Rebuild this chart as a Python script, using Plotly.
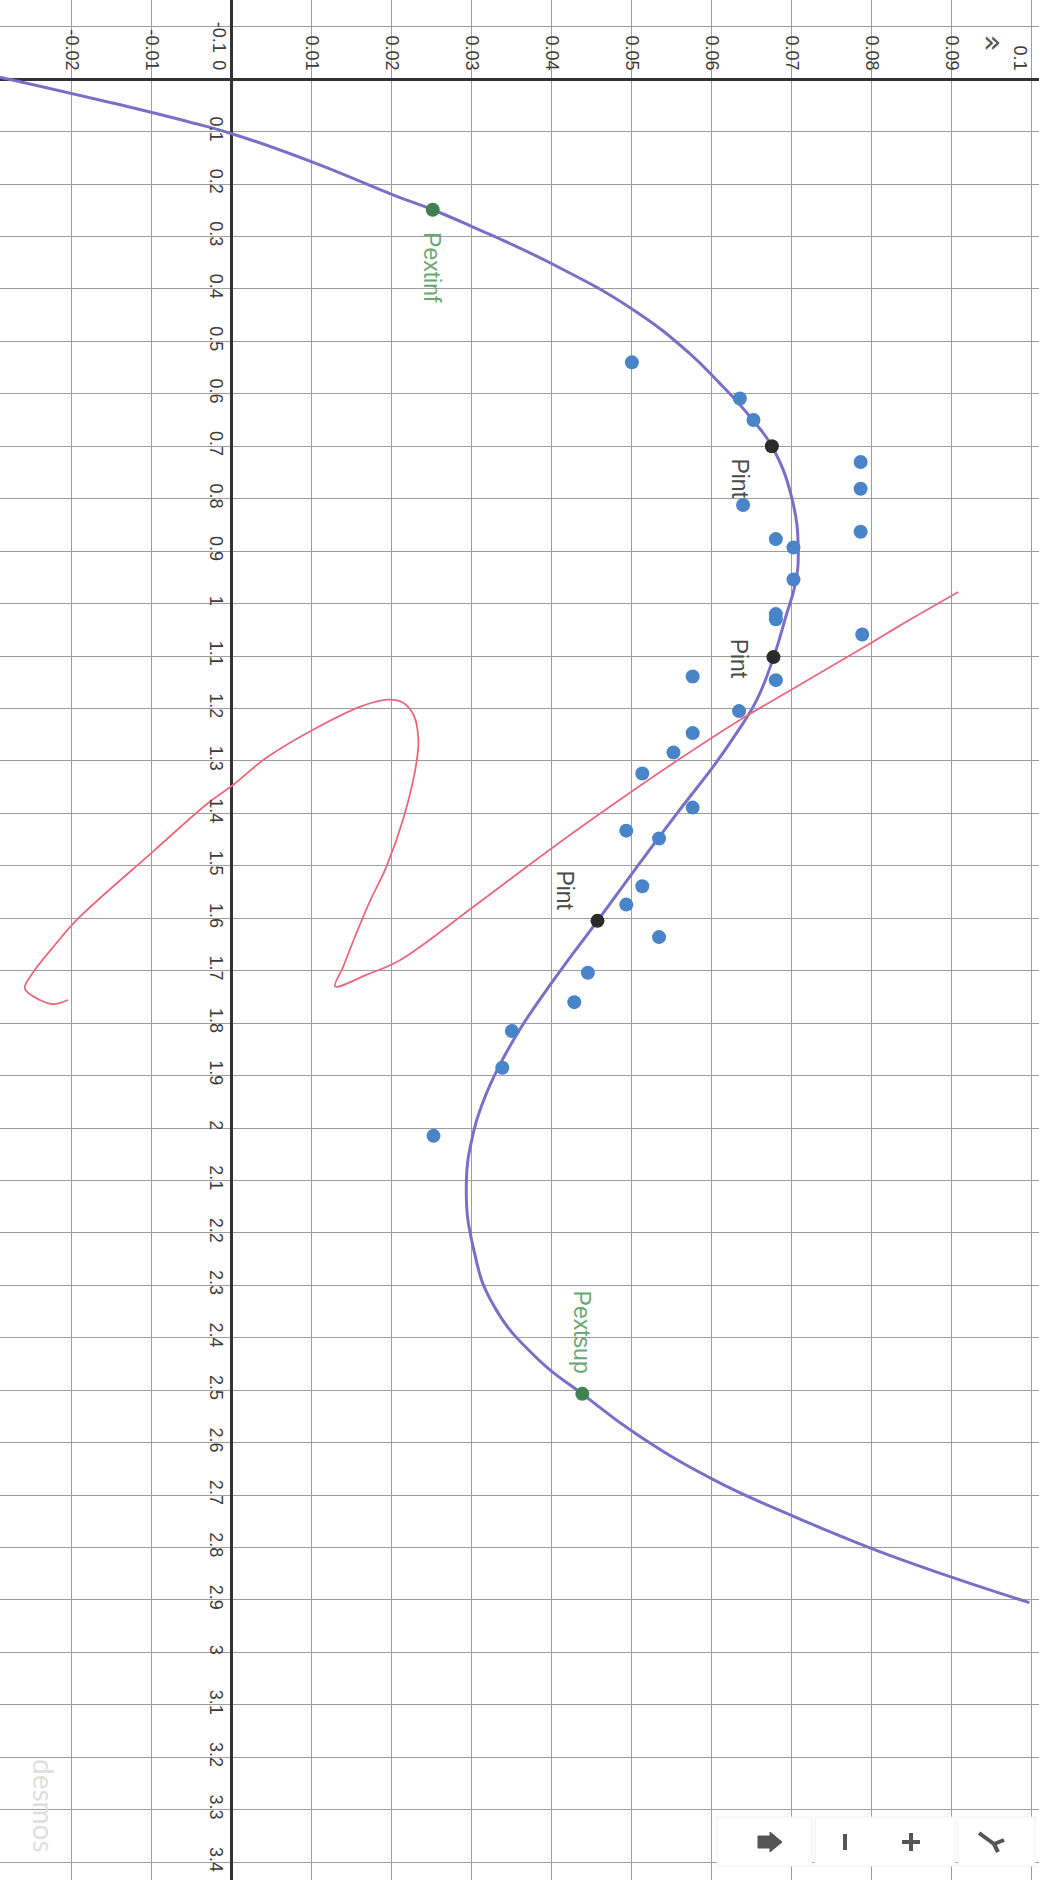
import plotly.graph_objects as go

W, H = 1039, 1880

# Visible window: model y runs across the page, model x runs down the page
y_range = [-0.029, 0.1009]
x_range = [3.434, -0.151]

# Fitted cubic, traced along its length (x, y)
fit_x = [-0.004, 0.047, 0.083, 0.104, 0.160, 0.221, 0.249, 0.281, 0.352, 0.440,
         0.520, 0.580, 0.609, 0.650, 0.700, 0.799, 0.901, 0.964, 1.022, 1.103,
         1.184, 1.251, 1.302, 1.403, 1.505, 1.605, 1.712, 1.807, 1.885, 1.950,
         2.008, 2.109, 2.230, 2.338, 2.440, 2.507, 2.583, 2.669, 2.739, 2.802,
         2.854, 2.905]
fit_y = [-0.0290, -0.0145, -0.0050, 0.0000, 0.0104, 0.0202, 0.0251, 0.0300, 0.0400, 0.0502,
         0.0570, 0.0610, 0.0628, 0.0651, 0.0675, 0.0700, 0.0708, 0.0704, 0.0693, 0.0677,
         0.0656, 0.0629, 0.0606, 0.0555, 0.0505, 0.0457, 0.0405, 0.0362, 0.0333, 0.0314,
         0.0302, 0.0293, 0.0302, 0.0327, 0.0382, 0.0438, 0.0505, 0.0600, 0.0700, 0.0800,
         0.0895, 0.0997]

# Measured points
data_x = [0.540, 0.609, 0.650, 0.730, 0.781, 0.812, 0.863, 0.877, 0.893, 0.954,
          1.020, 1.030, 1.059, 1.139, 1.146, 1.205, 1.247, 1.284, 1.324, 1.389,
          1.433, 1.448, 1.539, 1.574, 1.636, 1.704, 1.760, 1.815, 1.885, 2.015]
data_y = [0.0500, 0.0635, 0.0652, 0.0786, 0.0786, 0.0639, 0.0786, 0.0680, 0.0702, 0.0702,
          0.0680, 0.0680, 0.0788, 0.0576, 0.0680, 0.0634, 0.0576, 0.0552, 0.0513, 0.0576,
          0.0493, 0.0534, 0.0513, 0.0493, 0.0534, 0.0445, 0.0428, 0.0350, 0.0338, 0.0252]

# Parametric loop curve (x, y) in drawing order
loop_x = [0.978, 1.042, 1.076, 1.162, 1.222, 1.298, 1.356, 1.464, 1.578, 1.680,
          1.708, 1.730, 1.693, 1.642, 1.566, 1.502, 1.401, 1.300, 1.256, 1.212,
          1.188, 1.183, 1.195, 1.240, 1.294, 1.345, 1.383, 1.472, 1.603, 1.654,
          1.702, 1.734, 1.756, 1.764, 1.756]
loop_y = [0.0908, 0.0835, 0.0798, 0.0702, 0.0635, 0.0558, 0.0502, 0.0402, 0.0302, 0.0210,
          0.0168, 0.0129, 0.0139, 0.0152, 0.0173, 0.0193, 0.0216, 0.0231, 0.0233, 0.0227,
          0.0213, 0.0195, 0.0163, 0.0102, 0.0043, 0.0002, -0.0032, -0.0098, -0.0194, -0.0223,
          -0.0248, -0.0259, -0.0240, -0.0223, -0.0205]

# Intersection points
pint_x = [0.700, 1.102, 1.605]
pint_y = [0.0675, 0.0677, 0.0457]
pint_names = ["Pint", "Pint", "Pint"]

# Extreme points
pext_x = [0.249, 2.507]
pext_y = [0.0251, 0.0438]
pext_names = ["Pextinf", "Pextsup"]

# Axis labels
x_ticks = [-0.1, 0.0] + [round(0.1 * k, 1) for k in range(1, 35)]
x_ticktext = ["", ""] + [("%g" % v) for v in x_ticks[2:]]
y_ticks = [-0.02, -0.01, 0.0, 0.01, 0.02, 0.03, 0.04, 0.05, 0.06, 0.07, 0.08, 0.09, 0.1]
y_ticktext = ["-0.02", "-0.01", "", "0.01", "0.02", "0.03", "0.04", "0.05",
              "0.06", "0.07", "0.08", "0.09", ""]

FONT = "Liberation Sans, Arial, sans-serif"
CURVE = "#7770c6"
LOOP = "#e8697d"
DOTS = "#4a84c8"
PINT = "#2b2b2b"
PEXT = "#3f8150"


def frac(v, r):
    return (v - r[0]) / (r[1] - r[0])


fig = go.Figure()

fig.add_trace(go.Scatter(x=fit_y, y=fit_x, mode="lines",
                         line=dict(color=CURVE, width=3, shape="spline", smoothing=1.3),
                         hoverinfo="skip"))
fig.add_trace(go.Scatter(x=loop_y, y=loop_x, mode="lines",
                         line=dict(color=LOOP, width=1.8, shape="spline", smoothing=1.0),
                         hoverinfo="skip"))
fig.add_trace(go.Scatter(x=data_y, y=data_x, mode="markers",
                         marker=dict(color=DOTS, size=14)))
fig.add_trace(go.Scatter(x=pint_y, y=pint_x, mode="markers",
                         marker=dict(color=PINT, size=14)))
fig.add_trace(go.Scatter(x=pext_y, y=pext_x, mode="markers",
                         marker=dict(color=PEXT, size=14)))

annotations = []
pint_shift = [(-32, -32), (-35, -2), (-32, 30)]
for xv, yv, name, (dx, dy) in zip(pint_x, pint_y, pint_names, pint_shift):
    annotations.append(dict(x=yv, y=xv, text=name, showarrow=False, textangle=90,
                            xshift=dx, yshift=dy,
                            font=dict(family=FONT, size=23, color="#4a4a4a")))
pext_shift = [(0, -58), (0, 62)]
for xv, yv, name, (dx, dy) in zip(pext_x, pext_y, pext_names, pext_shift):
    annotations.append(dict(x=yv, y=xv, text=name, showarrow=False, textangle=90,
                            xshift=dx, yshift=dy,
                            font=dict(family=FONT, size=23, color="#6aa873")))

# labels that sit next to the origin and the right edge
tick_font = dict(family=FONT, size=18, color="#3c3c3c")
annotations += [
    dict(x=0, y=-0.1, text="-0.1", showarrow=False, textangle=90, xshift=-13, yshift=-11, font=tick_font),
    dict(x=0, y=0, text="0", showarrow=False, textangle=90, xshift=-13, yshift=14, font=tick_font),
    dict(x=0.1, y=0, text="0.1", showarrow=False, textangle=90, xshift=-12, yshift=21, font=tick_font),
    dict(x=992 / W, y=1 - 42 / H, xref="paper", yref="paper", xanchor="center", yanchor="middle",
         text="»", showarrow=False,
         font=dict(family="DejaVu Sans", size=30, color="#555555")),
    dict(x=44 / W, y=1 - 1806 / H, xref="paper", yref="paper", xanchor="center", yanchor="middle",
         text="desmos", showarrow=False, textangle=90,
         font=dict(family="Lato, sans-serif", size=28, color="#dedede")),
]


def px(x):
    return x / W


def py(y):
    return 1 - y / H


shapes = []
for x0, x1 in [(717, 812), (815, 955), (958, 1035)]:
    shapes.append(dict(type="rect", xref="paper", yref="paper", layer="above",
                       x0=px(x0), x1=px(x1), y0=py(1866), y1=py(1817),
                       fillcolor="white", line=dict(color="#f0f0f0", width=1)))
icon = "#555555"
# home
shapes.append(dict(type="path", xref="paper", yref="paper", layer="above",
                   path="M %f %f L %f %f L %f %f L %f %f L %f %f L %f %f L %f %f Z" % (
                       px(758), py(1836), px(770), py(1836), px(770), py(1832), px(782), py(1842),
                       px(770), py(1852), px(770), py(1848), px(758), py(1848)),
                   fillcolor=icon, line=dict(color=icon, width=1)))
# minus
shapes.append(dict(type="line", xref="paper", yref="paper", layer="above",
                   x0=px(845), x1=px(845), y0=py(1834), y1=py(1850), line=dict(color=icon, width=4)))
# plus
shapes.append(dict(type="line", xref="paper", yref="paper", layer="above",
                   x0=px(902), x1=px(920), y0=py(1842), y1=py(1842), line=dict(color=icon, width=4)))
shapes.append(dict(type="line", xref="paper", yref="paper", layer="above",
                   x0=px(911), x1=px(911), y0=py(1833), y1=py(1851), line=dict(color=icon, width=4)))
# wrench
shapes.append(dict(type="line", xref="paper", yref="paper", layer="above",
                   x0=px(979), x1=px(994), y0=py(1833), y1=py(1844), line=dict(color=icon, width=4)))
shapes.append(dict(type="line", xref="paper", yref="paper", layer="above",
                   x0=px(994), x1=px(1004), y0=py(1844), y1=py(1840), line=dict(color=icon, width=4)))
shapes.append(dict(type="line", xref="paper", yref="paper", layer="above",
                   x0=px(994), x1=px(998), y0=py(1844), y1=py(1852), line=dict(color=icon, width=4)))

grid = "#9c9c9c"
fig.update_layout(
    width=W, height=H, autosize=False,
    margin=dict(l=0, r=0, t=0, b=0, pad=0),
    paper_bgcolor="white", plot_bgcolor="white",
    showlegend=False,
    annotations=annotations,
    shapes=shapes,
    xaxis=dict(range=y_range, tickmode="array", tickvals=y_ticks, ticktext=y_ticktext,
               side="top", anchor="free", position=frac(0, x_range),
               tickangle=90, tickfont=tick_font, ticks="", ticklabelstandoff=6,
               showgrid=True, gridcolor=grid, gridwidth=1,
               zeroline=True, zerolinecolor="#333333", zerolinewidth=2.5,
               showline=False, fixedrange=True),
    yaxis=dict(range=x_range, tickmode="array", tickvals=x_ticks, ticktext=x_ticktext,
               side="left", anchor="free", position=frac(0, y_range),
               tickangle=90, tickfont=tick_font, ticks="", ticklabelstandoff=4,
               showgrid=True, gridcolor=grid, gridwidth=1,
               zeroline=True, zerolinecolor="#333333", zerolinewidth=2.5,
               showline=False, fixedrange=True),
)

fig.write_html("out.html")
